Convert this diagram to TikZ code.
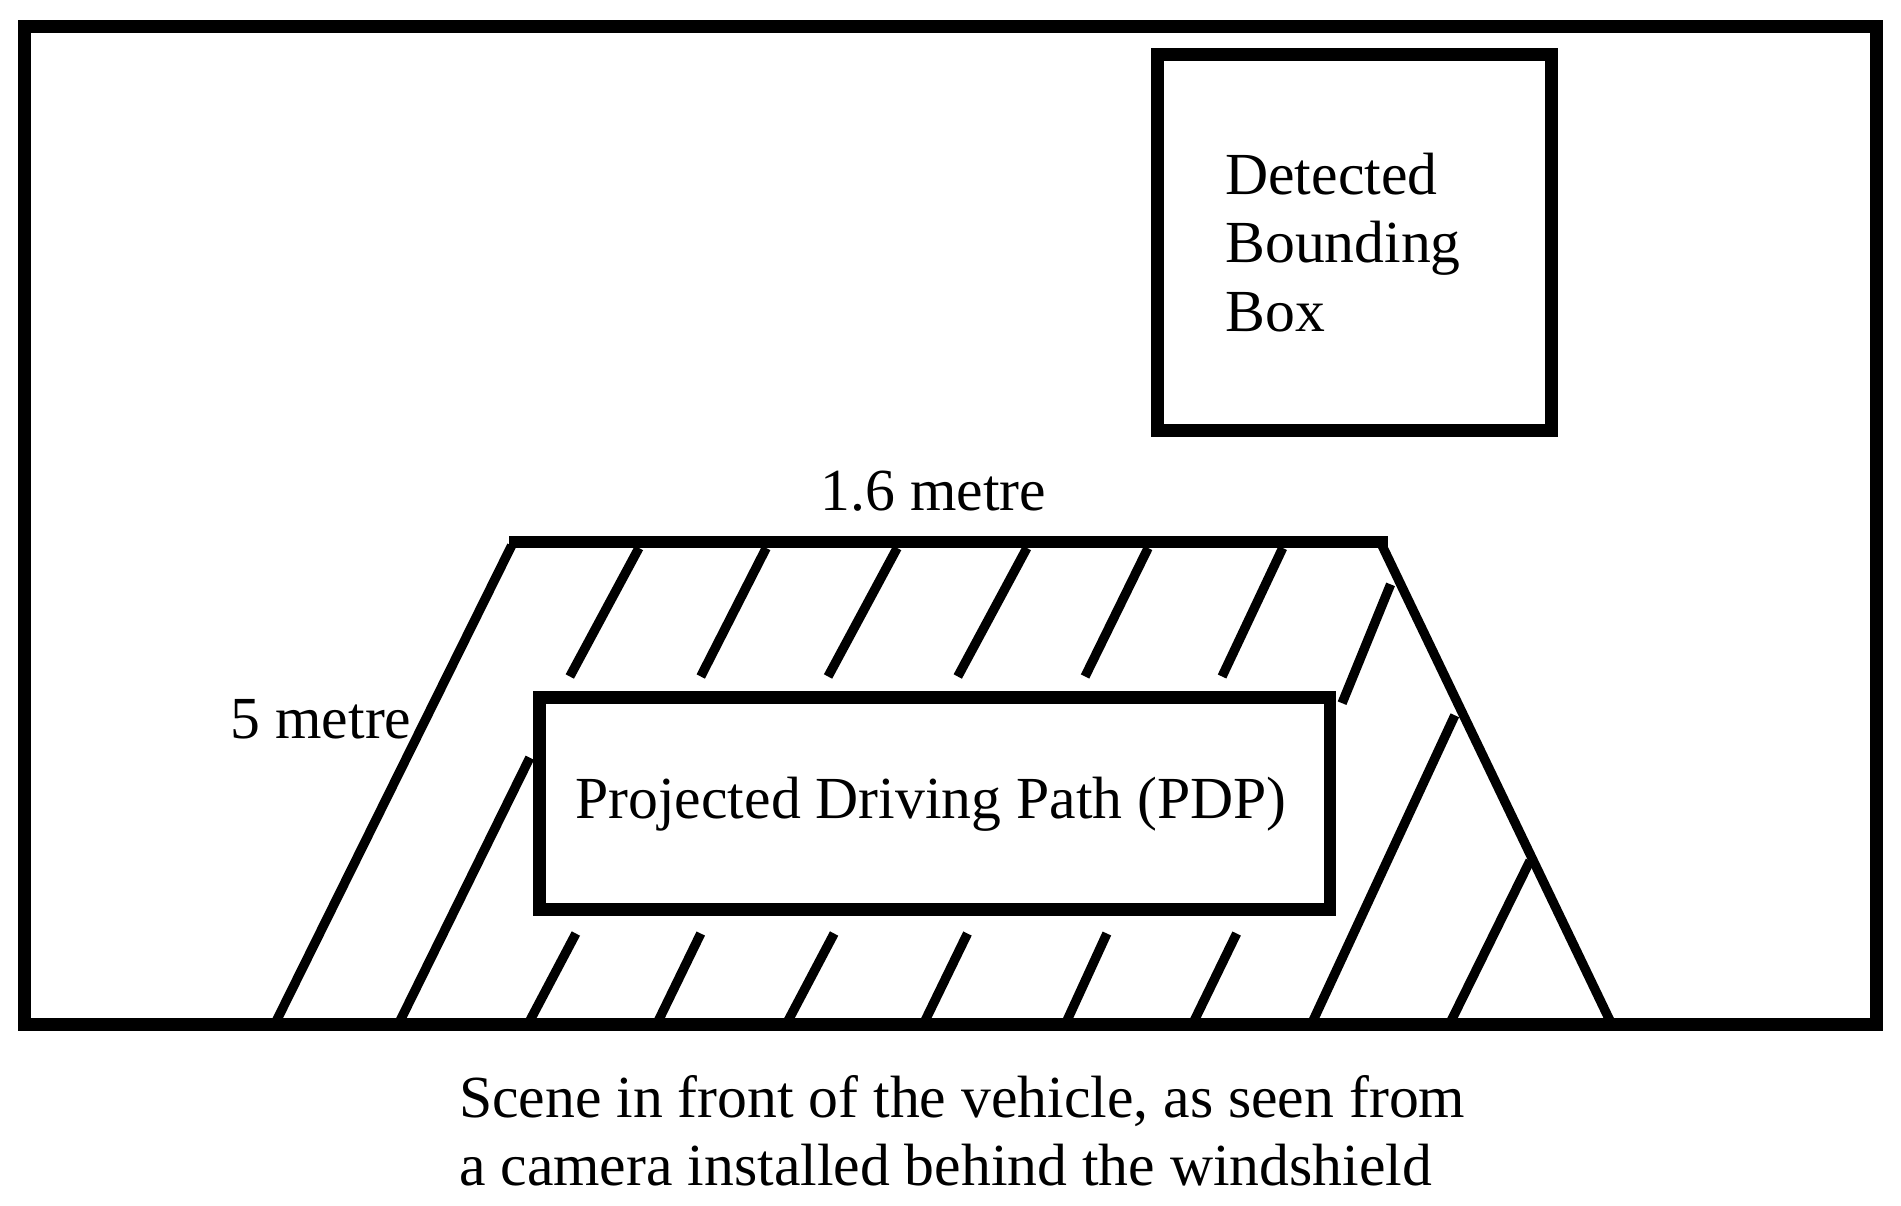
\documentclass[tikz,border=0pt]{standalone}
\usepackage{fontspec}
\setmainfont{Liberation Serif}
\begin{document}
\begin{tikzpicture}[x=0.01cm,y=-0.01cm,
  frame/.style={line width=3pt},
  hatch/.style={line width=2.2pt},
  lbl/.style={font=\fontsize{14}{16}\selectfont, inner sep=0pt}]
\useasboundingbox (0,0) rectangle (1568,994);
\draw[frame] (20,22) rectangle (1548,845);
\draw[frame] (955,45) rectangle (1280,355);
\node[lbl,anchor=west,align=left] (bb) at (1010,200) {Detected\\Bounding\\Box};
\draw[frame] (420,447) -- (1145,447);
\draw[hatch] (422,450) -- (228,842);
\draw[hatch] (1140,450) -- (1328,842);
\draw[frame] (445,575) rectangle (1097,750);
\node[lbl] (pdp) at (768,663) {Projected Driving Path (PDP)};
\node[lbl] (w) at (770,405) {1.6 metre};
\node[lbl,anchor=east] (h) at (340,593) {5 metre};
\foreach \a/\b in {527/470,632/578,740/683,847/790,947/895,1058/1008}
  \draw[hatch] (\a,452) -- (\b,558);
\draw[hatch] (1147,482) -- (1107,580);
\foreach \a/\b in {475/437,578/543,688/650,798/763,913/880,1020/985}
  \draw[hatch] (\a,770) -- (\b,842);
\draw[hatch] (437,625) -- (330,842);
\draw[hatch] (1200,590) -- (1083,842);
\draw[hatch] (1262,710) -- (1197,842);
\node[lbl,anchor=west,align=left] (cap) at (378,933) {Scene in front of the vehicle, as seen from\\a camera installed behind the windshield};
\end{tikzpicture}
\end{document}
